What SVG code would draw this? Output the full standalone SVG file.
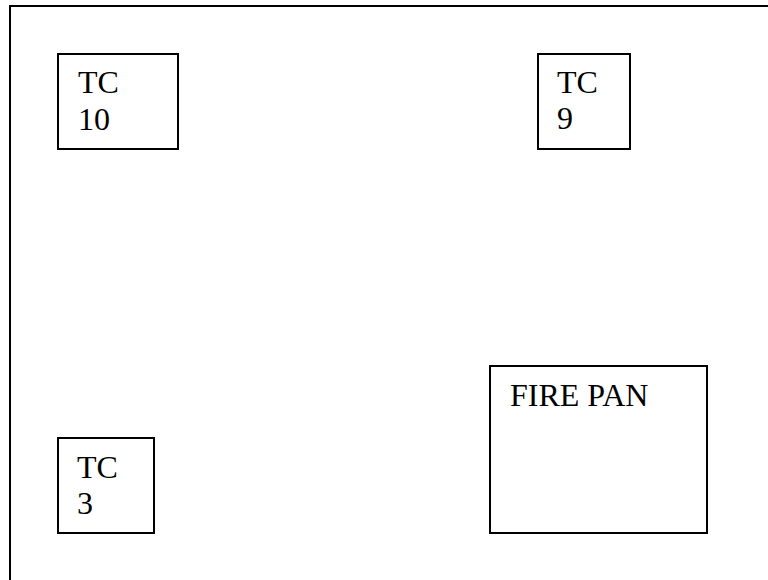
<svg xmlns="http://www.w3.org/2000/svg" width="768" height="580" viewBox="0 0 768 580">
<style>
.box{fill:#fff;stroke:#000;stroke-width:2}
.t{font-family:"Liberation Serif","Times New Roman",serif;font-size:32px;fill:#000}
</style>
<rect width="768" height="580" fill="#fff"/>
<path d="M10 582 V6 H770" fill="none" stroke="#000" stroke-width="2"/>
<g id="tc10"><rect class="box" x="58" y="54" width="120" height="95"/><text class="t" x="78" y="93">TC</text><text class="t" x="78" y="130">10</text></g>
<g id="tc9"><rect class="box" x="538" y="54" width="92" height="95"/><text class="t" x="557" y="93">TC</text><text class="t" x="557" y="129">9</text></g>
<g id="tc3"><rect class="box" x="58" y="438" width="96" height="95"/><text class="t" x="77" y="478">TC</text><text class="t" x="77" y="514">3</text></g>
<g id="firepan"><rect class="box" x="490" y="366" width="217" height="167"/><text class="t" x="510" y="406">FIRE PAN</text></g>
<g id="connectors"></g>
</svg>
